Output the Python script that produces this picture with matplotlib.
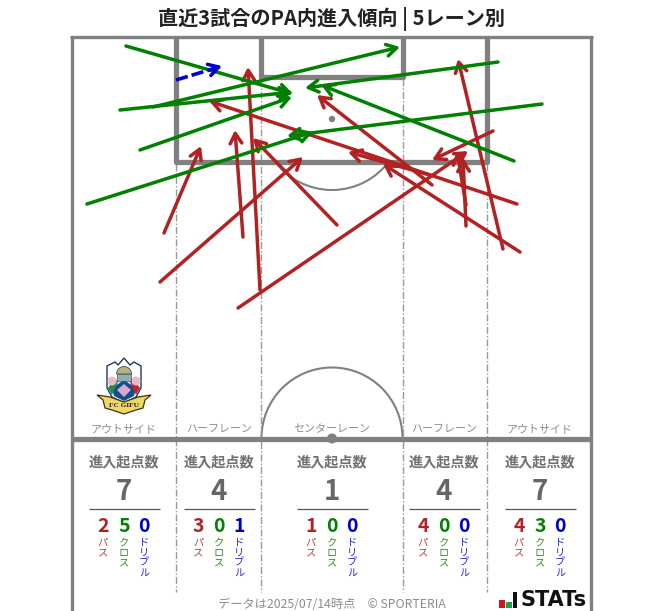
import matplotlib
matplotlib.use('Agg')
import matplotlib.pyplot as plt
from matplotlib.patches import Polygon, Rectangle, Circle, Arc, Wedge, Ellipse

plt.rcParams['font.family'] = ['Noto Sans CJK JP', 'DejaVu Sans']

# Arrows in picture coordinates: start x, start y, end x, end y
pass_x0 = [164, 160, 243, 260, 238, 337, 466, 466, 432, 430, 517, 520, 503, 493]
pass_y0 = [233, 282, 237, 290, 308, 225, 226, 205, 185, 175, 204, 252, 249, 131]
pass_x1 = [201, 303, 235, 248, 468, 253, 463, 457, 317, 348, 209, 383, 458, 432]
pass_y1 = [146, 157, 130, 67, 151, 138, 158, 151, 95, 152, 101, 164, 59, 160]

cross_x0 = [126, 120, 153, 140, 87, 498, 542, 514]
cross_y0 = [46, 110, 107, 150, 204, 62, 104, 161]
cross_x1 = [293, 293, 400, 292, 313, 305, 287, 321]
cross_y1 = [94, 92, 47, 97, 132, 88, 136, 85]

drib_x0 = [176]
drib_y0 = [80]
drib_x1 = [222]
drib_y1 = [66]

lane_names = ['アウトサイド', 'ハーフレーン', 'センターレーン', 'ハーフレーン', 'アウトサイド']
lane_totals = [7, 4, 1, 4, 7]
lane_pass = [2, 3, 1, 4, 4]
lane_cross = [5, 0, 0, 0, 3]
lane_drib = [0, 1, 0, 0, 0]
lane_centers = [124, 219, 332, 444, 540]
lane_edges = [175.5, 260.5, 402.5, 486.5]

RED, GREEN, BLUE = '#b22222', '#008000', '#0000cd'
LINE = '#808080'

fig = plt.figure(figsize=(6.63, 6.11), dpi=100)
ax = fig.add_axes([0, 0, 1, 1])
ax.set_xlim(0, 663)
ax.set_ylim(611, 0)
ax.axis('off')

# pitch
def seg(xs, ys, lw, color=LINE, **kw):
    ax.plot(xs, ys, color=color, lw=lw, solid_capstyle='butt', **kw)

seg([71.5, 71.5], [36, 611], 2.4)
seg([591, 591], [36, 611], 2.4)
seg([70, 592.5], [37, 37], 2.4)
seg([72, 591], [438.5, 438.5], 3.8)
seg([175.5, 175.5, 486.5, 486.5], [37, 162, 162, 37], 3.8)
seg([260.5, 260.5, 402.5, 402.5], [37, 77, 77, 37], 3.8)
ax.add_patch(Circle((332, 119), 3.2, color=LINE, lw=0))
ax.add_patch(Circle((332, 438.5), 5, color=LINE, lw=0))
ax.add_patch(Arc((332, 119), 142, 142, theta1=36, theta2=144, color=LINE, lw=1.5))
ax.add_patch(Arc((332, 438), 141, 141, theta1=180, theta2=360, color=LINE, lw=1.5))

for i, x in enumerate(lane_edges):
    top = 164 if i in (0, 3) else 79
    ax.plot([x, x], [top, 592], color='#999999', lw=1.0, dashes=(5, 1.5, 1, 1.5), zorder=1)

def arrow(x0, y0, x1, y1, c, **kw):
    ax.annotate('', xy=(x1, y1), xytext=(x0, y0), annotation_clip=False,
                arrowprops=dict(arrowstyle='->,head_length=0.72,head_width=0.42', color=c, lw=2.5,
                                shrinkA=0, shrinkB=0, **kw), zorder=3)

for v in zip(pass_x0, pass_y0, pass_x1, pass_y1):
    arrow(*v, RED)
for v in zip(cross_x0, cross_y0, cross_x1, cross_y1):
    arrow(*v, GREEN)
for x0, y0, x1, y1 in zip(drib_x0, drib_y0, drib_x1, drib_y1):
    ax.plot([x0, x1 - 3], [y0, y1 + 1], color=BLUE, lw=2.6, dashes=(3.4, 1.1), zorder=3)
    arrow(x0 + 0.8 * (x1 - x0), y0 + 0.8 * (y1 - y0), x1, y1, BLUE)

# title
ax.text(331, 19, '直近3試合のPA内進入傾向 | 5レーン別', ha='center', va='center',
        fontsize=14.5, fontweight='bold', color='#222222')

# lane panels
for i, cx in enumerate(lane_centers):
    ax.text(cx, 429, lane_names[i], ha='center', va='center', fontsize=7.9, color='#8c8c8c')
    ax.text(cx, 462, '進入起点数', ha='center', va='center', fontsize=10.2, fontweight='bold', color='#707070')
    ax.text(cx, 492, str(lane_totals[i]), ha='center', va='center', fontsize=20, fontweight='bold', color='#666666')
    seg([cx - 35.5, cx + 35.5], [508.5, 508.5], 0.9, color='#555555')
    for dx, val, name, col in [(-21, lane_pass[i], 'パ\nス', RED),
                               (0, lane_cross[i], 'ク\nロ\nス', GREEN),
                               (20, lane_drib[i], 'ド\nリ\nブ\nル', BLUE)]:
        ax.text(cx + dx, 526.5, str(val), ha='center', va='center', fontsize=14, fontweight='bold', color=col)
        ax.text(cx + dx, 538, name, ha='center', va='top', fontsize=7.4, color=col, alpha=0.85, linespacing=0.98)

# footer
ax.text(332, 604, 'データは2025/07/14時点　© SPORTERIA', ha='center', va='center', fontsize=8.8, color='#8c8c8c')

# STATs mark
ax.add_patch(Rectangle((499, 600), 5.5, 8, color='#d7121f', lw=0))
ax.add_patch(Rectangle((506, 602), 5.5, 6, color='#1aa14a', lw=0))
ax.add_patch(Rectangle((512.5, 592), 4.5, 16, color='#111111', lw=0))
ax.text(521, 600.5, 'STATs', ha='left', va='center', fontsize=15, fontweight='bold', color='#111111', family='DejaVu Sans')

# club crest
navy = '#1d3a5f'
ax.add_patch(Polygon([(107, 366), (115, 362), (118, 365), (124, 358), (130, 365), (134, 362), (141, 366),
                      (141, 388), (136, 397), (124, 403), (112, 397), (107, 388)],
                     closed=True, fc='white', ec=navy, lw=1.0, zorder=4))
ax.add_patch(Polygon([(112, 388), (124, 380), (136, 388), (134, 396), (124, 401), (114, 396)],
                     closed=True, fc='#124f8a', ec='none', zorder=5))
ax.add_patch(Polygon([(108, 388), (115, 378), (118, 382), (112, 395)], closed=True, fc='#1f8a4c', ec='none', zorder=5))
ax.add_patch(Polygon([(140, 388), (133, 378), (130, 382), (136, 395)], closed=True, fc='#c2272d', ec='none', zorder=5))
ax.add_patch(Ellipse((112, 381), 9, 9, fc='#e8bcc6', ec='none', zorder=6))
ax.add_patch(Ellipse((136, 381), 9, 9, fc='#e8bcc6', ec='none', zorder=6))
ax.add_patch(Polygon([(124, 384), (131, 390), (124, 397), (117, 390)], closed=True, fc='#d8a8d0', ec='none', zorder=6))
ax.add_patch(Wedge((124, 374), 7.5, 180, 360, fc='#b9b27c', ec=navy, lw=0.5, zorder=6))
ax.add_patch(Rectangle((117, 374), 14, 7, fc='#8fb0b0', ec=navy, lw=0.4, zorder=6))
ax.add_patch(Polygon([(97, 395), (110, 397), (124, 402), (138, 397), (151, 395), (145, 400), (143, 408),
                      (136, 410), (124, 414), (112, 410), (105, 408), (103, 400)],
                     closed=True, fc='#efd765', ec='#3a3320', lw=0.9, zorder=7))
ax.text(124, 405.5, 'FC GIFU', ha='center', va='center', fontsize=5.2, fontweight='bold',
        color='#222222', family='Liberation Serif', zorder=8)

fig.savefig('out.png', dpi=100)
